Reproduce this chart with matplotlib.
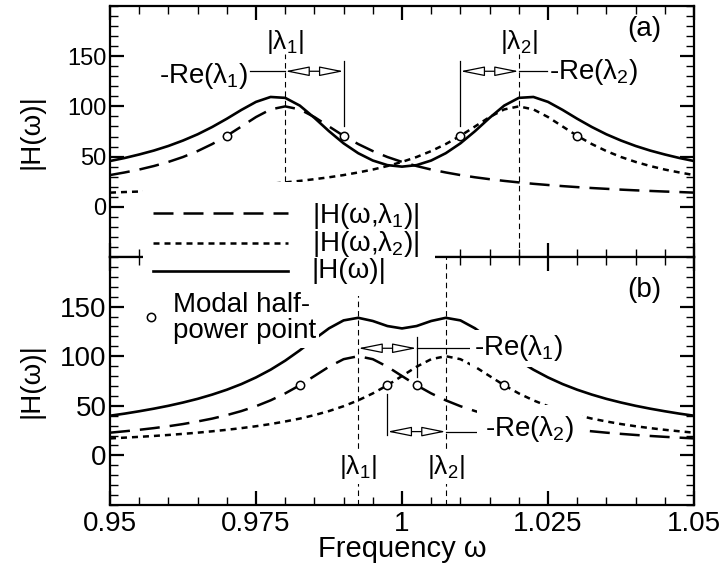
import matplotlib
matplotlib.use('Agg')
import matplotlib.pyplot as plt
from matplotlib.patches import FancyArrowPatch, Rectangle
from matplotlib.lines import Line2D
from matplotlib.ticker import MultipleLocator, FixedLocator

plt.rcParams['font.family'] = ['Liberation Sans', 'DejaVu Sans']
plt.rcParams['mathtext.fontset'] = 'custom'
plt.rcParams['mathtext.rm'] = 'Liberation Sans'
plt.rcParams['mathtext.it'] = 'Liberation Sans'
plt.rcParams['mathtext.bf'] = 'Liberation Sans:bold'

# frequency samples (same for both panels)
freq = [0.95, 0.9525, 0.955, 0.9575, 0.96, 0.9625, 0.965, 0.9675, 0.97, 0.9725,
        0.975, 0.9775, 0.98, 0.9825, 0.985, 0.9875, 0.99, 0.9925, 0.995, 0.9975,
        1.0, 1.0025, 1.005, 1.0075, 1.01, 1.0125, 1.015, 1.0175, 1.02, 1.0225,
        1.025, 1.0275, 1.03, 1.0325, 1.035, 1.0375, 1.04, 1.0425, 1.045, 1.0475, 1.05]

# panel (a): well separated modes
a_mode1 = [31.6, 34.2, 37.1, 40.6, 44.7, 49.6, 55.5, 62.5, 70.7, 80.0,
           89.4, 97.0, 100.0, 97.0, 89.4, 80.0, 70.7, 62.5, 55.5, 49.6,
           44.7, 40.6, 37.1, 34.2, 31.6, 29.4, 27.5, 25.8, 24.3, 22.9,
           21.7, 20.6, 19.6, 18.7, 17.9, 17.1, 16.4, 15.8, 15.2, 14.7, 14.1]
a_mode2 = [14.1, 14.7, 15.2, 15.8, 16.4, 17.1, 17.9, 18.7, 19.6, 20.6,
           21.7, 22.9, 24.3, 25.8, 27.5, 29.4, 31.6, 34.2, 37.1, 40.6,
           44.7, 49.6, 55.5, 62.5, 70.7, 80.0, 89.4, 97.0, 100.0, 97.0,
           89.4, 80.0, 70.7, 62.5, 55.5, 49.6, 44.7, 40.6, 37.1, 34.2, 31.6]
a_total = [45.6, 48.6, 52.1, 56.0, 60.6, 66.0, 72.2, 79.5, 87.7, 96.5,
           104.5, 109.4, 108.5, 100.8, 88.6, 75.3, 63.2, 53.4, 46.1, 41.5,
           40.0, 41.5, 46.1, 53.4, 63.2, 75.3, 88.6, 100.8, 108.5, 109.4,
           104.5, 96.5, 87.7, 79.5, 72.2, 66.0, 60.6, 56.0, 52.1, 48.6, 45.6]
a_half_freq = [0.97, 0.99, 1.01, 1.03]
a_half_val = [70.7, 70.7, 70.7, 70.7]
a_modes = [0.98, 1.02]      # |lambda_1|, |lambda_2|
a_decay = 0.01              # -Re(lambda)

# panel (b): close modes
b_mode1 = [22.9, 24.3, 25.8, 27.5, 29.4, 31.6, 34.2, 37.1, 40.6, 44.7,
           49.6, 55.5, 62.5, 70.7, 80.0, 89.4, 97.0, 100.0, 97.0, 89.4,
           80.0, 70.7, 62.5, 55.5, 49.6, 44.7, 40.6, 37.1, 34.2, 31.6,
           29.4, 27.5, 25.8, 24.3, 22.9, 21.7, 20.6, 19.6, 18.7, 17.9, 17.1]
b_mode2 = [17.1, 17.9, 18.7, 19.6, 20.6, 21.7, 22.9, 24.3, 25.8, 27.5,
           29.4, 31.6, 34.2, 37.1, 40.6, 44.7, 49.6, 55.5, 62.5, 70.7,
           80.0, 89.4, 97.0, 100.0, 97.0, 89.4, 80.0, 70.7, 62.5, 55.5,
           49.6, 44.7, 40.6, 37.1, 34.2, 31.6, 29.4, 27.5, 25.8, 24.3, 22.9]
b_total = [40.0, 42.1, 44.5, 47.1, 50.0, 53.3, 57.0, 61.3, 66.2, 71.9,
           78.6, 86.4, 95.5, 105.9, 117.2, 128.1, 136.1, 138.7, 135.5, 130.4,
           128.0, 130.4, 135.5, 138.7, 136.1, 128.1, 117.2, 105.9, 95.5, 86.4,
           78.6, 71.9, 66.2, 61.3, 57.0, 53.3, 50.0, 47.1, 44.5, 42.1, 40.0]
b_half_freq = [0.9825, 1.0025, 0.9975, 1.0175]
b_half_val = [70.7, 70.7, 70.7, 70.7]
b_modes = [0.9925, 1.0075]
b_decay = 0.01

x_ticks = [0.95, 0.975, 1.0, 1.025, 1.05]
x_tick_labels = ['0.95', '0.975', '1', '1.025', '1.05']
y_ticks = [0, 50, 100, 150]

W, H = 724, 571
fig = plt.figure(figsize=(W / 100, H / 100), dpi=100)


def fx(px):
    return px / W


def fy(py):
    return 1 - py / H


ax_a = fig.add_axes([fx(110), fy(257), (694 - 110) / W, (257 - 6) / H])
ax_b = fig.add_axes([fx(110), fy(505), (694 - 110) / W, (505 - 257) / H], sharex=ax_a)

DASH = dict(color='k', lw=1.8, dashes=(8, 4))
DOT = dict(color='k', lw=1.8, dashes=(2.4, 2))
SOLID = dict(color='k', lw=1.9)
GUIDE = dict(color='k', lw=0.8, dashes=(5, 3.5))
THIN = dict(color='k', lw=0.9)
HALF = dict(ls='none', marker='o', ms=6, mfc='white', mec='k', mew=1.1, zorder=5)
WHITE = dict(boxstyle='square,pad=0.12', fc='white', ec='none')


def span_arrow(ax, x0, x1, y):
    ax.add_patch(FancyArrowPatch((x0, y), (x1, y),
                                 arrowstyle='<|-|>,head_length=1.5,head_width=0.3',
                                 mutation_scale=10, fc='white', ec='k', lw=0.9,
                                 shrinkA=0, shrinkB=0, zorder=4))


for ax in (ax_a, ax_b):
    ax.set_xlim(0.95, 1.05)
    ax.set_ylim(-50, 200)
    ax.set_xticks(x_ticks, labels=x_tick_labels)
    ax.xaxis.set_minor_locator(MultipleLocator(0.005))
    ax.yaxis.set_major_locator(FixedLocator(y_ticks))
    ax.yaxis.set_minor_locator(MultipleLocator(10))
    ax.tick_params(which='major', direction='in', length=10, width=1.6,
                   top=True, right=True)
    ax.tick_params(which='minor', direction='in', length=6, width=1.0,
                   top=True, right=True)
    for s in ax.spines.values():
        s.set_linewidth(1.6)
    ax.set_ylabel('|H(ω)|', fontsize=20)
    ax.yaxis.set_label_coords(-0.113, 0.5)

ax_a.tick_params(axis='x', labelbottom=False)
ax_a.tick_params(axis='y', labelsize=17, pad=2.5)
ax_b.tick_params(axis='y', labelsize=20, pad=2.5)
ax_b.tick_params(axis='x', labelsize=20, pad=4)
ax_b.set_xlabel('Frequency ω', fontsize=21)
ax_b.xaxis.set_label_coords(0.5, -0.12)

# ---- panel (a)
ax_a.plot(freq, a_mode1, **DASH)
ax_a.plot(freq, a_mode2, **DOT)
ax_a.plot(freq, a_total, **SOLID)
ax_a.plot(a_half_freq, a_half_val, **HALF)
for m in a_modes:
    ax_a.plot([m, m], [-50, 152], **GUIDE)
ax_a.text(a_modes[0], 164, r'|$\lambda_1$|', fontsize=19, ha='center', va='center')
ax_a.text(a_modes[1], 164, r'|$\lambda_2$|', fontsize=19, ha='center', va='center')

span_arrow(ax_a, a_modes[0], a_modes[0] + a_decay, 135)
ax_a.plot([a_modes[0] + a_decay] * 2, [145, 80], **THIN)
ax_a.plot([0.974, a_modes[0]], [135, 135], **THIN)
ax_a.text(0.9736, 130, r'-Re($\lambda_1$)', fontsize=20, ha='right', va='center')

span_arrow(ax_a, a_modes[1] - a_decay, a_modes[1], 135)
ax_a.plot([a_modes[1] - a_decay] * 2, [145, 80], **THIN)
ax_a.plot([a_modes[1], 1.0248], [135, 135], **THIN)
ax_a.text(1.0252, 134, r'-Re($\lambda_2$)', fontsize=20, ha='left', va='center')
ax_a.text(1.0415, 177, '(a)', fontsize=20, ha='center', va='center')

# ---- panel (b)
ax_b.plot(freq, b_mode1, **DASH)
ax_b.plot(freq, b_mode2, **DOT)
ax_b.plot(freq, b_total, **SOLID)
ax_b.plot(b_half_freq, b_half_val, **HALF)
for m in b_modes:
    ax_b.plot([m, m], [-50, 200], **GUIDE)
ax_b.text(b_modes[0], -12, r'|$\lambda_1$|', fontsize=19, ha='center', va='center',
          bbox=WHITE, zorder=6)
ax_b.text(b_modes[1], -12, r'|$\lambda_2$|', fontsize=19, ha='center', va='center',
          bbox=WHITE, zorder=6)

span_arrow(ax_b, b_modes[0], b_modes[0] + b_decay, 108)
ax_b.plot([b_modes[0] + b_decay] * 2, [119, 79], **THIN)
ax_b.plot([b_modes[0] + b_decay, 1.0118], [108, 108], **THIN)
ax_b.text(1.0123, 108, r'-Re($\lambda_1$)', fontsize=20, ha='left', va='center',
          bbox=WHITE, zorder=6)

span_arrow(ax_b, b_modes[1] - b_decay, b_modes[1], 24)
ax_b.plot([b_modes[1] - b_decay] * 2, [62, 21], **THIN)
ax_b.plot([b_modes[1], 1.0128], [24, 24], **THIN)
ax_b.text(1.0142, 27, r'-Re($\lambda_2$)', fontsize=20, ha='left', va='center',
          bbox=dict(boxstyle='square,pad=0.3', fc='white', ec='none'), zorder=6)
ax_b.text(1.0415, 167, '(b)', fontsize=20, ha='center', va='center')

# ---- legend (spans both panels)
fig.add_artist(Rectangle((fx(143), fy(296)), (435 - 143) / W, (296 - 182) / H,
                         transform=fig.transFigure, fc='white', ec='none', zorder=2.5))
fig.add_artist(Line2D([fx(153), fx(288)], [fy(213), fy(213)], transform=fig.transFigure,
                      zorder=3, **DASH))
fig.add_artist(Line2D([fx(153), fx(288)], [fy(243), fy(243)], transform=fig.transFigure,
                      zorder=3, **DOT))
fig.add_artist(Line2D([fx(153), fx(288)], [fy(271), fy(271)], transform=fig.transFigure,
                      zorder=3, **SOLID))
fig.text(fx(312), fy(216), r'|H(ω,$\lambda_1$)|', fontsize=20, ha='left', va='center')
fig.text(fx(312), fy(244), r'|H(ω,$\lambda_2$)|', fontsize=20, ha='left', va='center')
fig.text(fx(312), fy(271), '|H(ω)|', fontsize=20, ha='left', va='center')
fig.add_artist(Line2D([fx(151)], [fy(317)], transform=fig.transFigure, zorder=3,
                      ls='none', marker='o', ms=6, mfc='white', mec='k', mew=1.1))
fig.text(fx(173), fy(318), 'Modal half-\npower point', fontsize=20, ha='left',
         va='center', linespacing=1.05, bbox=WHITE)

fig.savefig('out.png', dpi=100)
